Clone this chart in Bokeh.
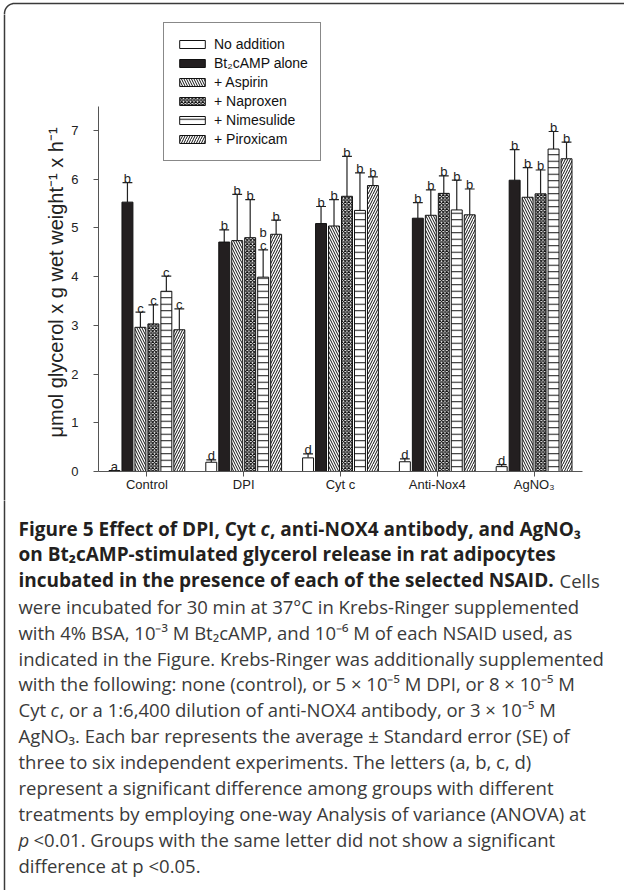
import numpy as np
from bokeh.plotting import figure
from bokeh.layouts import column, row
from bokeh.models import (ColumnDataSource, Range1d, FixedTicker, Legend, LegendItem,
                          Label, Title)
from bokeh.core.properties import value
from bokeh.embed import file_html
from bokeh.resources import INLINE

# ---------------- data ----------------
groups = ["Control", "DPI", "Cyt c", "Anti-Nox4", "AgNO\u2083"]
treatments = ["No addition", "Bt\u2082cAMP alone", "+ Aspirin", "+ Naproxen",
              "+ Nimesulide", "+ Piroxicam"]

no_addition = [0.02, 0.19, 0.28, 0.20, 0.10]
no_addition_se = [0.00, 0.05, 0.08, 0.06, 0.04]
bt2camp = [5.53, 4.71, 5.09, 5.20, 5.98]
bt2camp_se = [0.40, 0.25, 0.35, 0.32, 0.63]
aspirin = [2.96, 4.74, 5.04, 5.26, 5.63]
aspirin_se = [0.31, 0.95, 0.54, 0.52, 0.61]
naproxen = [3.03, 4.80, 5.65, 5.71, 5.70]
naproxen_se = [0.39, 0.78, 0.82, 0.36, 0.49]
nimesulide = [3.70, 3.99, 5.36, 5.37, 6.62]
nimesulide_se = [0.31, 0.56, 0.77, 0.61, 0.36]
piroxicam = [2.91, 4.87, 5.87, 5.27, 6.42]
piroxicam_se = [0.43, 0.29, 0.18, 0.53, 0.34]

no_addition_letters = ["a", "d", "d", "d", "d"]
bt2camp_letters = ["b", "b", "b", "b", "b"]
aspirin_letters = ["c", "b", "b", "b", "b"]
naproxen_letters = ["c", "b", "b", "b", "b"]
nimesulide_letters = ["c", "c", "b", "b", "b"]
nimesulide_extra_letters = ["", "b", "", "", ""]
piroxicam_letters = ["c", "b", "b", "b", "b"]

y_ticks = [0, 1, 2, 3, 4, 5, 6, 7]

# ---------------- styles ----------------
styles = [
    dict(fill_color="white"),
    dict(fill_color="#231f20"),
    dict(fill_color="white", hatch_pattern="\\", hatch_scale=5, hatch_weight=1.0, hatch_color="#111111"),
    dict(fill_color="white", hatch_pattern="x", hatch_scale=3.5, hatch_weight=1.2, hatch_color="#111111"),
    dict(fill_color="white", hatch_pattern="-", hatch_scale=6.5, hatch_weight=1.0, hatch_color="#111111"),
    dict(fill_color="white", hatch_pattern="/", hatch_scale=5, hatch_weight=1.0, hatch_color="#111111"),
]
series_vals = [no_addition, bt2camp, aspirin, naproxen, nimesulide, piroxicam]
series_se = [no_addition_se, bt2camp_se, aspirin_se, naproxen_se, nimesulide_se, piroxicam_se]
series_letters = [no_addition_letters, bt2camp_letters, aspirin_letters, naproxen_letters,
                  nimesulide_letters, piroxicam_letters]

PITCH = 0.134
BAR_W = 0.113
FONT = "Liberation Sans"
PX_PER_UNIT = 48.71
BORDER = "#3a3a3a"


def blank(width, height, x0, x1, y0, y1):
    f = figure(width=width, height=height, x_range=Range1d(x0, x1), y_range=Range1d(y1, y0),
               output_backend="svg", toolbar_location=None, title=None,
               x_axis_type=None, y_axis_type=None, min_border=0, frame_align=False)
    f.outline_line_color = None
    f.grid.visible = False
    f.background_fill_color = None
    f.border_fill_color = None
    return f


# rounded page border (page-pixel coordinates)
BL, BT, RAD = 4.0, 3.0, 10.0
t = np.linspace(0, np.pi / 2, 12)
bx = [BL, BL] + list(BL + RAD - RAD * np.cos(t)) + [660.0]
by = [930.0, BT + RAD] + list(BT + RAD - RAD * np.sin(t)) + [BT]

top = blank(624, 14, 0, 624, 0, 14)
left = blank(28, 486, 0, 28, 14, 500)
for f in (top, left):
    f.line(bx, by, line_color=BORDER, line_width=1.5)

# chart figure: page x 28..624, y 14..500 ; frame x 98..582, y 20..471
CH_H = 486
p = figure(width=596, height=CH_H, x_range=Range1d(-0.5, 4.5),
           y_range=Range1d(0, (471 - 20) / PX_PER_UNIT),
           output_backend="svg", toolbar_location=None, title=None, frame_align=False,
           min_border_left=98 - 28, min_border_right=624 - 582, min_border_top=20 - 14,
           min_border_bottom=500 - 471)
p.outline_line_color = None
p.xgrid.visible = False
p.ygrid.visible = False
p.background_fill_color = None
p.border_fill_color = None

items = []
for j, name in enumerate(treatments):
    xs = [i + (j - 2.5) * PITCH for i in range(len(groups))]
    vals = series_vals[j]
    ups = [v + s for v, s in zip(vals, series_se[j])]
    src = ColumnDataSource(dict(x=xs, top=vals, up=ups,
                                x0=[x - BAR_W * 0.45 for x in xs],
                                x1=[x + BAR_W * 0.45 for x in xs],
                                lab=series_letters[j]))
    p.segment(x0="x", y0="top", x1="x", y1="up", source=src, line_color="#222222", line_width=1.2)
    p.segment(x0="x0", y0="up", x1="x1", y1="up", source=src, line_color="#222222", line_width=1.2)
    r = p.vbar(x="x", top="top", bottom=0, width=BAR_W, source=src,
               line_color="#111111", line_width=1, **styles[j])
    items.append(LegendItem(label=name, renderers=[r]))
    p.text(x="x", y="up", text="lab", source=src, text_align="center",
           text_baseline="alphabetic", y_offset=-4, text_font=value(FONT),
           text_font_size="13px", text_color="#222222")
    if j == 4:
        src2 = ColumnDataSource(dict(x=xs, up=ups, lab=nimesulide_extra_letters))
        p.text(x="x", y="up", text="lab", source=src2, text_align="center",
               text_baseline="alphabetic", y_offset=-17, text_font=value(FONT),
               text_font_size="13px", text_color="#222222")

legend = Legend(items=items, location=(65, 310), orientation="vertical",
                glyph_width=32, glyph_height=10, label_height=18, spacing=1,
                padding=12, margin=0, label_standoff=6,
                label_text_font=FONT, label_text_font_size="14px", label_text_color="#111111",
                border_line_color="#111111", border_line_width=1,
                background_fill_color="white", background_fill_alpha=1)
p.add_layout(legend)

p.xaxis.ticker = FixedTicker(ticks=list(range(len(groups))))
p.xaxis.major_label_overrides = {i: g for i, g in enumerate(groups)}
p.yaxis.ticker = FixedTicker(ticks=y_ticks)
p.yaxis.bounds = (0, 7.5)
for ax in (p.xaxis, p.yaxis):
    ax.axis_line_color = "#555555"
    ax.major_tick_line_color = "#555555"
    ax.minor_tick_line_color = None
    ax.major_tick_in = 0
    ax.major_tick_out = 5
    ax.major_label_text_font = FONT
    ax.major_label_text_font_size = "13px"
    ax.major_label_text_color = "#222222"
p.xaxis.major_label_standoff = 0
p.yaxis.major_label_standoff = 15

p.add_layout(Title(text="\u03bcmol glycerol x g wet weight\u207b\u00b9 x h\u207b\u00b9",
                   align="left", offset=34, standoff=4,
                   text_font=FONT, text_font_size="20px", text_font_style="normal",
                   text_color="#222222"), "left")

# caption figure: page y 500..890
CAP_H = 390
cap = blank(624, CAP_H, 0, 624, 500, 500 + CAP_H)
cap.line(bx, by, line_color=BORDER, line_width=1.5)

CAP_FONT = "Open Sans"
CAP_SIZE = "18.5px"
BOLD_SIZE = "19px"
X0 = 18
caption = [
    [("Figure 5 Effect of DPI, Cyt ", X0, "bold"), ("c", 260, "bold italic"),
     (", anti-NOX4 antibody, and AgNO\u2083", 269.5, "bold")],
    [("on Bt\u2082cAMP-stimulated glycerol release in rat adipocytes", X0, "bold")],
    [("incubated in the presence of each of the selected NSAID.", X0, "bold"), ("Cells", 559, "normal")],
    [("were incubated for 30 min at 37\u00b0C in Krebs-Ringer supplemented", X0, "normal")],
    [("with 4% BSA, 10\u207b\u00b3 M Bt\u2082cAMP, and 10\u207b\u2076 M of each NSAID used, as", X0, "normal")],
    [("indicated in the Figure. Krebs-Ringer was additionally supplemented", X0, "normal")],
    [("with the following: none (control), or 5 \u00d7 10\u207b\u2075 M DPI, or 8 \u00d7 10\u207b\u2075 M", X0, "normal")],
    [("Cyt ", X0, "normal"), ("c", 50, "italic"),
     (", or a 1:6,400 dilution of anti-NOX4 antibody, or 3 \u00d7 10\u207b\u2075 M", 59, "normal")],
    [("AgNO\u2083. Each bar represents the average \u00b1 Standard error (SE) of", X0, "normal")],
    [("three to six independent experiments. The letters (a, b, c, d)", X0, "normal")],
    [("represent a significant difference among groups with different", X0, "normal")],
    [("treatments by employing one-way Analysis of variance (ANOVA) at", X0, "normal")],
    [("p", X0, "italic"), ("<0.01. Groups with the same letter did not show a significant", 33, "normal")],
    [("difference at p <0.05.", X0, "normal")],
]
for k, line in enumerate(caption):
    yc = 528 + 25.9 * k
    for txt, xx, style in line:
        bold = "bold" in style
        cap.add_layout(Label(x=xx, y=yc, text=txt, text_font=CAP_FONT,
                             text_font_size=BOLD_SIZE if bold else CAP_SIZE,
                             text_font_style=style,
                             text_baseline="middle", text_align="left",
                             text_color="#231f20" if bold else "#3a3a3a"))

layout = column(top, row(left, p, spacing=0), cap, spacing=0)

open("out.html", "w").write(file_html(layout, INLINE))
